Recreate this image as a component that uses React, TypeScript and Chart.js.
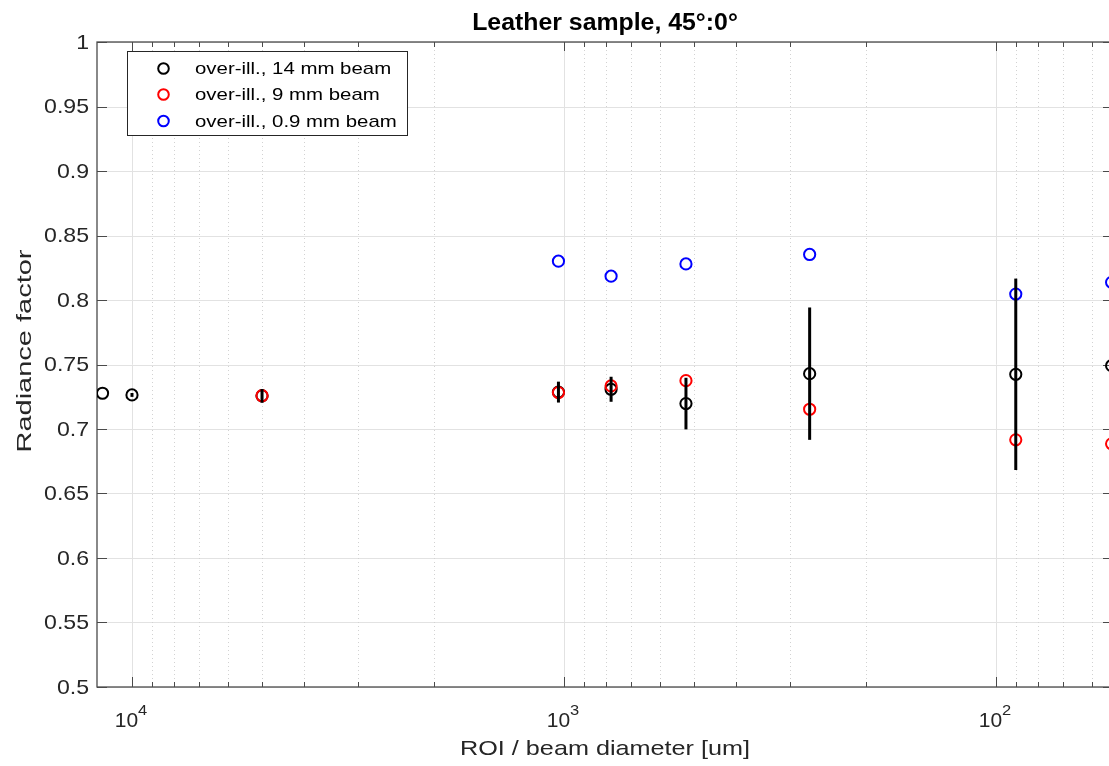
import React, { useEffect, useRef } from "react";
import { Chart, registerables } from "chart.js";

Chart.register(...registerables);

// ---------- data ----------
const blackX = [11700, 10000, 5000, 1030, 778, 522, 270, 90, 54];
const blackY = [0.7277, 0.7264, 0.7257, 0.7286, 0.7308, 0.7197, 0.7429, 0.7424, 0.7491];
const blackErr = [0, 0.0015, 0.0053, 0.0081, 0.0097, 0.02, 0.0513, 0.0742, 0];

const redX = [5000, 1030, 778, 522, 270, 90, 54];
const redY = [0.7258, 0.7282, 0.7334, 0.7375, 0.7153, 0.6916, 0.6885];

const blueX = [1030, 778, 522, 270, 90, 54];
const blueY = [0.8301, 0.8185, 0.828, 0.8353, 0.8046, 0.8137];

const seriesLabels = ["over-ill., 14 mm beam", "over-ill., 9 mm beam", "over-ill., 0.9 mm beam"];
const seriesColors = ["#000000", "#ff0000", "#0000ff"];

const yTickValues = [0.5, 0.55, 0.6, 0.65, 0.7, 0.75, 0.8, 0.85, 0.9, 0.95, 1];
const yTickLabels = ["0.5", "0.55", "0.6", "0.65", "0.7", "0.75", "0.8", "0.85", "0.9", "0.95", "1"];
const xMajorValues = [10000, 1000, 100];
const xMajorExponents = ["4", "3", "2"];

const titleText = "Leather sample, 45°:0°";
const xLabelText = "ROI / beam diameter [um]";
const yLabelText = "Radiance factor";

const X_MIN = 53.6;
const X_MAX = 12050;

const FONT = '"Liberation Sans", Arial, Helvetica, sans-serif';
const TXT = "#262626";

function drawText(
  ctx: CanvasRenderingContext2D,
  s: string,
  x: number,
  y: number,
  size: number,
  o: { bold?: boolean; align?: CanvasTextAlign; baseline?: CanvasTextBaseline; sx?: number; rot?: number; color?: string }
) {
  ctx.save();
  ctx.translate(x, y);
  if (o.rot) ctx.rotate(o.rot);
  ctx.scale(o.sx ?? 1, 1);
  ctx.font = `${o.bold ? "bold " : ""}${size}px ${FONT}`;
  ctx.textAlign = o.align ?? "left";
  ctx.textBaseline = o.baseline ?? "alphabetic";
  ctx.fillStyle = o.color ?? TXT;
  ctx.fillText(s, 0, 0);
  ctx.restore();
}

function seg(ctx: CanvasRenderingContext2D, x1: number, y1: number, x2: number, y2: number) {
  ctx.beginPath();
  ctx.moveTo(x1, y1);
  ctx.lineTo(x2, y2);
  ctx.stroke();
}

function minorValues(): number[] {
  const out: number[] = [];
  for (let k = 1; k <= 4; k++) {
    for (let m = 2; m <= 9; m++) {
      const v = m * Math.pow(10, k);
      if (v > X_MIN && v < X_MAX) out.push(v);
    }
  }
  return out;
}

const matlabPlugin = {
  id: "matlabAxes",
  beforeDatasetsDraw(chart: any) {
    const { ctx, chartArea, scales } = chart;
    const { left, right, top, bottom } = chartArea;
    const xs = scales.x;
    const ys = scales.y;
    ctx.save();
    ctx.lineWidth = 1;
    // y grid
    ctx.strokeStyle = "#e2e2e2";
    yTickValues.forEach((v) => {
      const py = Math.round(ys.getPixelForValue(v)) + 0.5;
      seg(ctx, left, py, right, py);
    });
    // x minor grid (dotted)
    ctx.strokeStyle = "#d2d2d2";
    ctx.setLineDash([1, 3]);
    minorValues().forEach((v) => {
      const px = Math.round(xs.getPixelForValue(v)) + 0.5;
      seg(ctx, px, top, px, bottom);
    });
    ctx.setLineDash([]);
    // x major grid
    ctx.strokeStyle = "#e2e2e2";
    xMajorValues.forEach((v) => {
      const px = Math.round(xs.getPixelForValue(v)) + 0.5;
      seg(ctx, px, top, px, bottom);
    });

    // box
    ctx.strokeStyle = "#4a4a4a";
    ctx.lineWidth = 1.3;
    ctx.strokeRect(left, top, right - left, bottom - top);

    // ticks
    ctx.lineWidth = 1;
    yTickValues.forEach((v) => {
      const py = Math.round(ys.getPixelForValue(v)) + 0.5;
      seg(ctx, left, py, left + 10, py);
      seg(ctx, right, py, right - 10, py);
    });
    xMajorValues.forEach((v) => {
      const px = Math.round(xs.getPixelForValue(v)) + 0.5;
      seg(ctx, px, bottom, px, bottom - 10);
      seg(ctx, px, top, px, top + 9);
    });
    minorValues().forEach((v) => {
      const px = Math.round(xs.getPixelForValue(v)) + 0.5;
      seg(ctx, px, bottom, px, bottom - 5);
      seg(ctx, px, top, px, top + 5);
    });

    // y tick labels
    yTickValues.forEach((v, i) => {
      const py = ys.getPixelForValue(v);
      drawText(ctx, yTickLabels[i], left - 8, py + 1, 21, { align: "right", baseline: "middle", sx: 1.1 });
    });

    // x tick labels 10^n
    xMajorValues.forEach((v, i) => {
      const px = xs.getPixelForValue(v);
      ctx.font = `21px ${FONT}`;
      const w10 = ctx.measureText("10").width;
      ctx.font = `15px ${FONT}`;
      const wE = ctx.measureText(xMajorExponents[i]).width * 1.1;
      const total = w10 + wE;
      const x0 = px - total / 2 - 1;
      drawText(ctx, "10", x0, bottom + 40, 21, { align: "left" });
      drawText(ctx, xMajorExponents[i], x0 + w10, bottom + 28, 15, { align: "left", sx: 1.1 });
    });

    // axis labels and title
    const cx = (left + right) / 2;
    drawText(ctx, xLabelText, cx, 755, 21, { align: "center", sx: 1.2 });
    drawText(ctx, yLabelText, 31, 351, 21, { align: "center", rot: -Math.PI / 2, sx: 1.38 });
    drawText(ctx, titleText, cx, 30, 23, { align: "center", bold: true, sx: 1.08, color: "#000" });
    ctx.restore();
  },
  afterDatasetsDraw(chart: any) {
    const { ctx, scales } = chart;
    const xs = scales.x;
    const ys = scales.y;
    ctx.save();
    ctx.strokeStyle = "#000";
    ctx.lineWidth = 3;
    blackX.forEach((xv, i) => {
      const e = blackErr[i];
      if (!e) return;
      const px = xs.getPixelForValue(xv);
      seg(ctx, px, ys.getPixelForValue(blackY[i] - e), px, ys.getPixelForValue(blackY[i] + e));
    });
    ctx.restore();
  },
  afterDraw(chart: any) {
    const { ctx } = chart;
    ctx.save();
    // legend
    ctx.fillStyle = "#fff";
    ctx.fillRect(127.5, 51, 280, 84);
    ctx.strokeStyle = "#262626";
    ctx.lineWidth = 1;
    ctx.strokeRect(127.5, 51.5, 280, 84);
    const rows = [68.5, 94.5, 121];
    seriesLabels.forEach((lab, i) => {
      ctx.beginPath();
      ctx.strokeStyle = seriesColors[i];
      ctx.lineWidth = 2;
      ctx.arc(163.5, rows[i], 5.3, 0, Math.PI * 2);
      ctx.stroke();
      drawText(ctx, lab, 195, rows[i] + 1, 17, { baseline: "middle", sx: 1.2, color: "#000" });
    });
    ctx.restore();
  },
};

function pts(xv: number[], yv: number[]) {
  return xv.map((x, i) => ({ x, y: yv[i] }));
}

export default function App() {
  const ref = useRef<HTMLCanvasElement | null>(null);
  useEffect(() => {
    if (!ref.current) return;
    const mk = (i: number, data: any[], order: number) => ({
      label: seriesLabels[i],
      data,
      order,
      pointStyle: "circle",
      pointRadius: 5.6,
      pointBorderWidth: 2,
      pointBorderColor: seriesColors[i],
      pointBackgroundColor: "rgba(0,0,0,0)",
      borderColor: seriesColors[i],
      backgroundColor: "rgba(0,0,0,0)",
      showLine: false,
    });
    const chart = new Chart(ref.current, {
      type: "scatter",
      data: {
        datasets: [mk(0, pts(blackX, blackY), 3), mk(1, pts(redX, redY), 2), mk(2, pts(blueX, blueY), 1)],
      },
      options: {
        animation: false,
        responsive: false,
        devicePixelRatio: 1,
        events: [],
        layout: { padding: { left: 97, top: 42, right: 12, bottom: 79 } },
        plugins: { legend: { display: false }, title: { display: false }, tooltip: { enabled: false } },
        scales: {
          x: { type: "logarithmic", reverse: true, min: X_MIN, max: X_MAX, bounds: "data", display: false },
          y: { type: "linear", min: 0.5, max: 1, display: false },
        },
      } as any,
      plugins: [matlabPlugin],
    });
    return () => chart.destroy();
  }, []);
  return (
    <div style={{ position: "fixed", left: 0, top: 0, width: 1125, height: 766, background: "#fff", overflow: "hidden" }}>
      <canvas ref={ref} width={1125} height={766} style={{ width: 1125, height: 766, display: "block" }} />
    </div>
  );
}
